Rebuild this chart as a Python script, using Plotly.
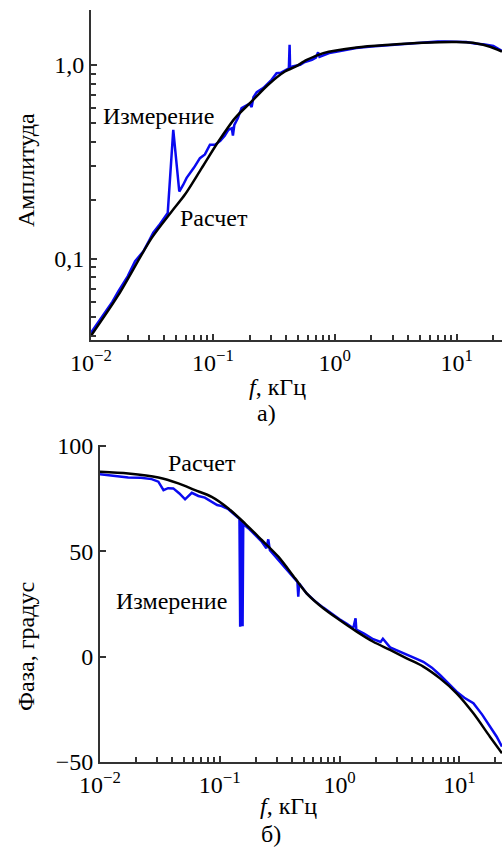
import plotly.graph_objects as go

# ---------------- data ----------------
# a) amplitude
f_amp_calc = [0.0100, 0.0168, 0.0315, 0.0459, 0.0590, 0.0809, 0.111, 0.152, 0.208, 0.284,
              0.390, 0.471, 0.589, 0.805, 1.51, 2.84, 5.32, 10.0, 14.6, 18.8, 23.5]
amp_calc = [0.0400, 0.065, 0.128, 0.175, 0.214, 0.293, 0.402, 0.531, 0.647, 0.789,
            0.924, 0.975, 1.06, 1.15, 1.23, 1.27, 1.30, 1.31, 1.29, 1.24, 1.17]

f_amp_meas = [0.0100, 0.0125, 0.0150, 0.0168, 0.0200, 0.0230, 0.0250, 0.0269, 0.0300, 0.0324,
              0.0360, 0.0400, 0.0426, 0.0473, 0.0530, 0.0570, 0.0609, 0.0700, 0.0783, 0.0860,
              0.0946, 0.1040, 0.1150, 0.1250, 0.1340, 0.1430, 0.1460, 0.1500, 0.1600, 0.1720,
              0.1900, 0.2000, 0.2080, 0.2150, 0.2290, 0.2600, 0.3030, 0.3330, 0.3600, 0.3900,
              0.4200, 0.4260, 0.4300, 0.4500, 0.4800, 0.5200, 0.5600, 0.6000, 0.6500, 0.7000,
              0.7300, 0.7500, 0.8000, 0.9000, 1.00, 1.20, 1.50, 2.00, 2.50, 3.00,
              4.00, 5.00, 6.00, 7.00, 8.00, 10.0, 12.0, 14.0, 17.0, 20.0, 23.5]
amp_meas = [0.0414, 0.051, 0.060, 0.068, 0.081, 0.097, 0.103, 0.109, 0.124, 0.136,
            0.148, 0.162, 0.172, 0.462, 0.222, 0.240, 0.261, 0.295, 0.330, 0.345,
            0.387, 0.387, 0.405, 0.430, 0.462, 0.470, 0.432, 0.490, 0.530, 0.598,
            0.615, 0.630, 0.605, 0.680, 0.723, 0.760, 0.837, 0.906, 0.910, 0.935,
            0.960, 1.27, 0.965, 0.980, 0.990, 1.00, 1.03, 1.045, 1.06, 1.09,
            1.16, 1.10, 1.12, 1.15, 1.165, 1.19, 1.22, 1.245, 1.26, 1.265,
            1.285, 1.30, 1.31, 1.32, 1.32, 1.32, 1.31, 1.29, 1.275, 1.25, 1.18]

# б) phase
f_ph_calc = [0.0100, 0.0172, 0.0307, 0.0451, 0.0621, 0.0856, 0.118, 0.162, 0.224, 0.308,
             0.425, 0.531, 0.731, 1.00, 1.39, 1.91, 2.64, 3.63, 5.00, 6.89,
             9.49, 13.1, 18.0, 22.7]
ph_calc = [87.8, 87.0, 85.1, 82.3, 79.1, 75.9, 70.4, 63.3, 55.4, 47.5,
           37.2, 30.1, 23.0, 17.4, 11.9, 7.1, 3.2, -0.8, -4.7, -10.3,
           -17.4, -26.9, -38.0, -45.9]

f_ph_meas = [0.0100, 0.0130, 0.0172, 0.0220, 0.0270, 0.0307, 0.0339, 0.0370, 0.0409, 0.0460,
             0.0513, 0.0584, 0.0663, 0.0750, 0.0855, 0.0950, 0.104, 0.118, 0.134, 0.146,
             0.148, 0.150, 0.153, 0.155, 0.157, 0.173, 0.200, 0.224, 0.245, 0.254,
             0.262, 0.308, 0.360, 0.425, 0.445, 0.452, 0.460, 0.531, 0.620, 0.731,
             0.850, 1.00, 1.15, 1.30, 1.36, 1.38, 1.60, 1.91, 2.20, 2.30,
             2.64, 3.10, 3.63, 4.30, 5.00, 5.90, 6.89, 8.00, 9.49, 11.0,
             13.1, 15.5, 18.0, 20.5, 22.7]
ph_meas = [86.6, 85.8, 85.1, 85.0, 84.3, 83.1, 79.1, 80.0, 79.9, 77.5,
           74.7, 77.8, 76.3, 75.5, 73.6, 72.0, 71.5, 70.0, 67.3, 65.5,
           14.2, 64.5, 63.5, 14.5, 63.0, 61.0, 57.5, 54.6, 51.5, 55.7,
           50.5, 45.9, 41.0, 36.4, 35.5, 28.5, 34.8, 30.0, 26.5, 23.3,
           20.5, 17.8, 15.6, 13.5, 18.2, 12.8, 11.0, 8.3, 7.0, 8.5,
           4.4, 2.8, 1.0, -0.8, -2.4, -5.2, -8.7, -12.5, -16.6, -19.5,
           -22.1, -27.5, -33.2, -38.0, -42.7]

x_major = [0.01, 0.1, 1, 10]
x_major_text = ["10<sup>\u22122</sup>", "10<sup>\u22121</sup>", "10<sup>0</sup>", "10<sup>1</sup>"]
amp_major = [0.1, 1.0]
amp_major_text = ["0,1", "1,0"]
ph_major = [-50, 0, 50, 100]
ph_major_text = ["\u221250", "0", "50", "100"]

# ---------------- figure ----------------
W, H = 502, 849
FONT = "Liberation Serif"
BLUE = "#0A0AF0"
TXT = 24

x_minor = [m * k for m in x_major for k in range(2, 10)]
amp_minor = [v for v in (m * k for m in (0.01, 0.1) for k in range(2, 10)) if 0.038 <= v <= 1.92]

fig = go.Figure()
fig.add_trace(go.Scatter(x=f_amp_meas, y=amp_meas, mode="lines",
                         line=dict(color=BLUE, width=2.5), xaxis="x", yaxis="y"))
fig.add_trace(go.Scatter(x=f_amp_calc, y=amp_calc, mode="lines",
                         line=dict(color="black", width=2.5, shape="spline", smoothing=0.8),
                         xaxis="x", yaxis="y"))
fig.add_trace(go.Scatter(x=f_ph_meas, y=ph_meas, mode="lines",
                         line=dict(color=BLUE, width=2.5), xaxis="x2", yaxis="y2"))
fig.add_trace(go.Scatter(x=f_ph_calc, y=ph_calc, mode="lines",
                         line=dict(color="black", width=2.5, shape="spline", smoothing=0.8),
                         xaxis="x2", yaxis="y2"))

axis_common = dict(showline=True, linecolor="#333333", linewidth=2, ticks="inside",
                   ticklen=6, tickwidth=1.5, tickcolor="#333333", showgrid=False,
                   zeroline=False, automargin=False, mirror=False,
                   tickfont=dict(family=FONT, size=TXT, color="black"))


def minor(vals):
    return dict(tickmode="array", tickvals=vals, ticks="inside", ticklen=5,
                tickwidth=1.5, tickcolor="#333333", showgrid=False)


fig.update_layout(
    width=W, height=H, margin=dict(l=0, r=0, t=0, b=0),
    paper_bgcolor="white", plot_bgcolor="white", showlegend=False,
    font=dict(family=FONT, size=TXT, color="black"),
    xaxis=dict(type="log", range=[-2, 1.372], domain=[91 / W, 1], anchor="y",
               tickmode="array", tickvals=x_major, ticktext=x_major_text,
               minor=minor(x_minor), **axis_common),
    yaxis=dict(type="log", range=[-1.420, 0.283], domain=[1 - 340 / H, 1 - 10 / H], anchor="x",
               tickmode="array", tickvals=amp_major, ticktext=amp_major_text,
               minor=minor(amp_minor), **axis_common),
    xaxis2=dict(type="log", range=[-2, 1.356], domain=[100 / W, 1], anchor="y2",
                tickmode="array", tickvals=x_major, ticktext=x_major_text,
                minor=minor(x_minor), **axis_common),
    yaxis2=dict(range=[-50, 100.5], domain=[1 - 762 / H, 1 - 445 / H], anchor="x2",
                tickmode="array", tickvals=ph_major, ticktext=ph_major_text, **axis_common),
)


def label(text, px, py, size=TXT, angle=0):
    fig.add_annotation(text=text, x=px / W, y=1 - py / H, xref="paper", yref="paper",
                       xanchor="center", yanchor="middle", showarrow=False, textangle=angle,
                       font=dict(family=FONT, size=size, color="black"))


label("Амплитуда", 26, 170, angle=-90)
label("Измерение", 158, 116)
label("Расчет", 214, 218)
label("<i>f</i>, кГц", 277, 387)
label("а)", 266, 413)

label("Фаза, градус", 26, 647, angle=-90)
label("Расчет", 202, 463)
label("Измерение", 171, 601)
label("<i>f</i>, кГц", 288, 806)
label("б)", 271, 834)

fig.write_html("out.html", config={"displayModeBar": False},
               post_script="document.body.style.margin='0';document.body.style.overflow='hidden';")
